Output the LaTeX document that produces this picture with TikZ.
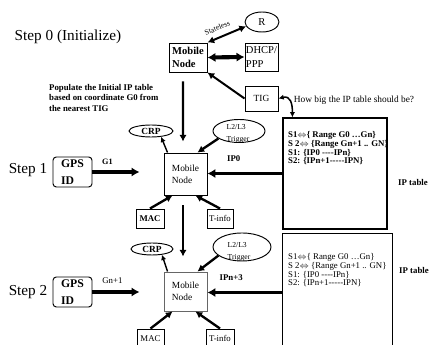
\documentclass[tikz,border=0pt]{standalone}
\usepackage{fontspec}
\setmainfont{Liberation Serif}
\usepackage{tikz}
\usetikzlibrary{shapes.geometric}
\usetikzlibrary{arrows.meta}
\tikzset{every edge/.style={draw}}
\tikzset{
    bigtip/.tip={Latex[length=2.4mm,width=2.8mm]},
    midtip/.tip={Latex[length=2mm,width=2.2mm]},
    smalltip/.tip={Latex[length=1.6mm,width=1.6mm]},
    fatarrow/.style={line width=3pt, -bigtip},
    midarrow/.style={line width=2pt, -midtip},
    thinarrow/.style={line width=1.2pt, -smalltip},
    nbox/.style={draw, line width=0.8pt, inner sep=0pt, align=left},
    oval/.style={draw, ellipse, line width=0.8pt, inner sep=0pt},
    steptxt/.style={font=\fontsize{13}{15}\selectfont},
    txt/.style={font=\fontsize{7.5}{9}\selectfont},
    btxt/.style={font=\fontsize{7.5}{9}\selectfont\bfseries},
}

\begin{document}
\begin{tikzpicture}[x=0.3mm, y=-0.3mm]       % pixel grid, y runs down
    \path[use as bounding box] (0, 0) rectangle (434, 345);

    % step 0
    \node[steptxt] at (68, 37) (S0) {Step 0 (Initialize)};
    \node[nbox, minimum width=11.4mm, minimum height=8.7mm, font=\fontsize{9}{11.5}\selectfont\bfseries] at (188, 57.5) (MN0) {Mobile\\Node};
    \node[oval, minimum width=10.2mm, minimum height=6mm, font=\fontsize{9}{11}\selectfont] at (262, 22) (R) {R};
    \node[nbox, minimum width=9.9mm, minimum height=8.4mm, font=\fontsize{9}{11.5}\selectfont] at (261.5, 57) (DHCP) {DHCP/\\PPP};
    \node[nbox, minimum width=9.9mm, minimum height=7.5mm, font=\fontsize{8}{10}\selectfont] at (261.5, 98.5) (TIG) {TIG};
    \node[font=\fontsize{8}{10}\selectfont] at (354, 100) (Q) {How big the IP table should be?};
    \node[btxt, anchor=north west, align=left] at (45, 80) (POP) {Populate the Initial IP table\\based on coordinate G0 from\\the nearest TIG};

    \draw (MN0.north east) edge[line width=1.7pt, midtip-midtip] node[sloped, above=0.6mm, pos=0.35, font=\fontsize{6.5}{8}\selectfont] {Stateless} (R.195);
    \draw (MN0.east) edge[line width=3.5pt, bigtip-bigtip] (DHCP.west);
    \draw (TIG.west) edge[line width=1.7pt, -midtip] (MN0.south east);

    % step 1
    \node[steptxt] at (28, 170) (S1) {Step 1};
    \node[nbox, rounded corners=1mm, minimum width=11.7mm, minimum height=9mm, font=\fontsize{10}{15}\selectfont\bfseries] at (72.5, 172) (GPS1) {GPS\\ID};
    \node[nbox, minimum width=12.9mm, minimum height=12.6mm, font=\fontsize{8}{10}\selectfont] at (185.5, 174) (MN1) {Mobile\\Node};
    \node[oval, minimum width=13.2mm, minimum height=3.6mm, font=\fontsize{8}{9}\selectfont\bfseries] at (151, 131) (CRP1) {CRP};
    \node[oval, minimum width=15.6mm, minimum height=6.9mm] at (239, 131) (TR1) {};
    \node[align=left, font=\fontsize{6.5}{10.5}\selectfont] at (238, 134) (TR1txt) {L2/L3\\Trigger};
    \node[nbox, minimum width=8.4mm, minimum height=5.7mm, btxt] at (150, 218.5) (MAC1) {MAC};
    \node[nbox, minimum width=7.8mm, minimum height=5.7mm, txt] at (220, 218.5) (TI1) {T-info};
    \node[draw, line width=1pt, minimum width=31.2mm, minimum height=33.3mm] at (335, 173.5) (T1) {};
    \node[anchor=north west, align=left, font=\fontsize{7.5}{7.6}\selectfont\bfseries] at (284, 127) (T1txt) {S1$\Leftrightarrow$\{ Range G0 \dots Gn\}\\S 2$\Leftrightarrow$ \{Range Gn+1 .. GN\}\\S1: \{IP0 {-}{-}{-}{-}IPn\}\\S2: \{IPn+1{-}{-}{-}{-}{-}IPN\}};
    \node[btxt] at (413, 182) (IPT1) {IP table};

    \draw ([xshift=-1.5mm]MN0.south) edge[midarrow, shorten <=2.7mm, shorten >=3.3mm] ([xshift=-0.75mm]MN1.north);
    \draw (GPS1.east) edge[fatarrow, shorten >=7.2mm] node[above=0.6mm, pos=0.21, font=\fontsize{7}{8}\selectfont\bfseries] {G1} (GPS1.east -| MN1.west);
    \draw (T1.west) edge[fatarrow] node[above=1.8mm, pos=0.65, btxt] {IP0} (T1.west -| MN1.east);
    \draw ([xshift=1.2mm]MN1.north west) edge[thinarrow] (CRP1.-30);
    \draw (TR1.200) edge[midarrow] ([xshift=-3mm]MN1.north east);
    \draw (MAC1.north) edge[midarrow] ([xshift=2.7mm]MN1.south west);
    \draw (TI1.north) edge[midarrow] ([xshift=-3.6mm]MN1.south east);
    \draw[line width=1.3pt, smalltip-smalltip] (TIG.east) .. controls +(12, -3) and +(0, -14) .. ([xshift=3mm]T1.north west);

    % step 2
    \node[steptxt] at (28, 292) (S2) {Step 2};
    \node[nbox, rounded corners=1mm, minimum width=11.7mm, minimum height=9mm, font=\fontsize{10}{15}\selectfont\bfseries] at (72.5, 292) (GPS2) {GPS\\ID};
    \node[nbox, draw=black!60, minimum width=12.9mm, minimum height=11.7mm, font=\fontsize{8}{10}\selectfont] at (185.5, 291.5) (MN2) {Mobile\\Node};
    \node[oval, minimum width=12.6mm, minimum height=3.6mm, font=\fontsize{8}{9}\selectfont\bfseries] at (152, 249) (CRP2) {CRP};
    \node[oval, minimum width=17.4mm, minimum height=8.4mm] at (242, 247) (TR2) {};
    \node[align=left, font=\fontsize{6.5}{10.5}\selectfont] at (239, 252) (TR2txt) {L2/L3\\Trigger};
    \node[nbox, minimum width=8.1mm, minimum height=5.7mm, txt] at (150.5, 338.5) (MAC2) {MAC};
    \node[nbox, minimum width=8.4mm, minimum height=5.7mm, txt] at (220, 338.5) (TI2) {T-info};
    \node[draw, line width=0.8pt, minimum width=33mm, minimum height=35.7mm] at (337, 292.5) (T2) {};
    \node[anchor=north west, align=left, font=\fontsize{7.5}{7.6}\selectfont] at (284, 249) (T2txt) {S1$\Leftrightarrow$\{ Range G0 \dots Gn\}\\S 2$\Leftrightarrow$ \{Range Gn+1 .. GN\}\\S1: \{IP0 {-}{-}{-}{-}IPn\}\\S2: \{IPn+1{-}{-}{-}{-}{-}IPN\}};
    \node[btxt] at (414, 270) (IPT2) {IP table};

    \draw ([xshift=-0.75mm]MN1.south) edge[midarrow, shorten <=3mm, shorten >=4.5mm] ([xshift=-0.75mm]MN2.north);
    \draw (GPS2.east) edge[fatarrow, shorten >=7.2mm] node[above=0.8mm, pos=0.28, txt] {Gn+1} (GPS2.east -| MN2.west);
    \draw (T2.west) edge[fatarrow] node[above=1.8mm, pos=0.68, btxt] {IPn+3} (T2.west -| MN2.east);
    \draw ([xshift=1.2mm]MN2.north west) edge[thinarrow] (CRP2.-30);
    \draw (TR2.200) edge[midarrow] ([xshift=-3mm]MN2.north east);
    \draw (MAC2.north) edge[midarrow] ([xshift=2.7mm]MN2.south west);
    \draw (TI2.north) edge[midarrow] ([xshift=-3.6mm]MN2.south east);
\end{tikzpicture}
\end{document}
